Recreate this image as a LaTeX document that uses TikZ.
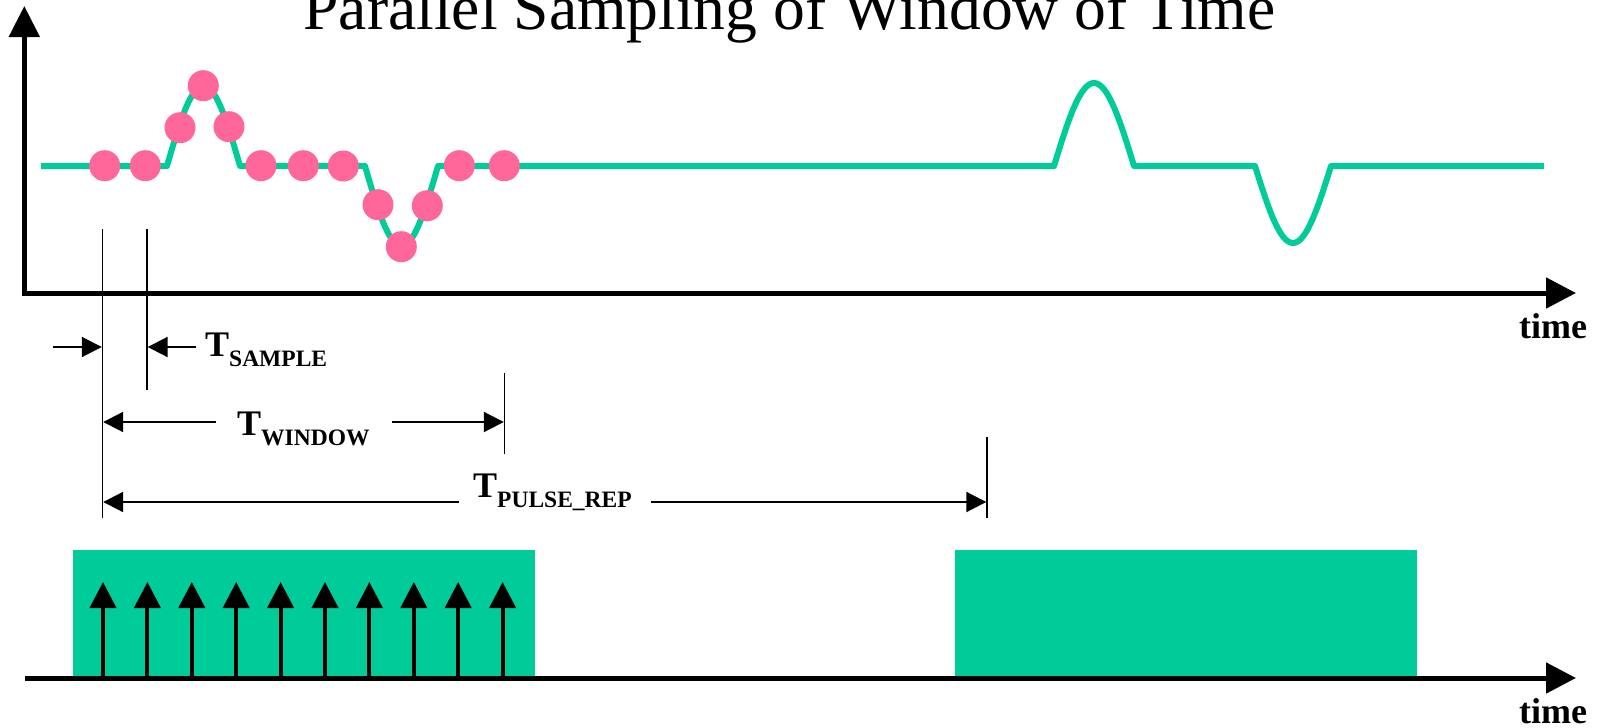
\documentclass[tikz,border=0pt]{standalone}
\usepackage{fontspec}
\setmainfont{Liberation Serif}
\usetikzlibrary{arrows.meta}
\definecolor{sig}{HTML}{00CC99}
\definecolor{dotc}{HTML}{FF6699}
\newcommand{\dimlabel}[1]{{\bfseries\fontsize{36}{40}\selectfont T\raisebox{-10pt}{\fontsize{23.5}{26}\selectfont #1}}}
\begin{document}
\begin{tikzpicture}[x=1pt,y=-1pt,
  axisline/.style={line width=5pt},
  bigtip/.style={-{Triangle[length=30pt,width=30pt]}},
  signal/.style={sig,line width=6pt,line join=round},
  sampledot/.style={circle,fill=dotc,inner sep=0pt,minimum size=31pt},
  guide/.style={black,line width=1.4pt},
  dimarrow/.style={black,line width=2pt,-{Triangle[length=20pt,width=20pt]}},
  impulse/.style={black,line width=4pt,-{Triangle[length=26pt,width=26pt]}},
  pulsebox/.style={fill=sig},
  timelbl/.style={anchor=base,inner sep=0pt,font=\bfseries\fontsize{36}{40}\selectfont},
  dimtext/.style={anchor=base west,inner sep=0pt}
]
\useasboundingbox (0,0) rectangle (1604,728);

% title
\node[anchor=base,inner sep=0pt] (title) at (789.5,29.3) {\fontsize{63.6}{70}\selectfont Parallel Sampling of Window of Time};

% top axes
\coordinate (ytop) at (24.3,6);
\coordinate (xend) at (1576,293);
\draw[axisline,{Triangle[length=31pt,width=30pt]}-{Triangle[length=30pt,width=30pt]}] (ytop) |- (xend);
\node[timelbl] (time1) at (1553,338) {time};

% signal
\draw[signal] (41,166) -- (167,166)
  -- plot[variable=\t,domain=0:1,samples=41] ({167+73*\t},{166-80*sin(180*\t)})
  -- (365,166)
  -- plot[variable=\t,domain=0:1,samples=41] ({365+73*\t},{166+80*sin(180*\t)})
  -- (1054,166)
  -- plot[variable=\t,domain=0:1,samples=41] ({1054+80*\t},{166-83*sin(180*\t)})
  -- (1255,166)
  -- plot[variable=\t,domain=0:1,samples=41] ({1255+76*\t},{166+77*sin(180*\t)})
  -- (1544,166);

% sample dots
\foreach \n/\px/\py in {1/104.7/165.7, 2/145.3/165.7, 3/180/127.7, 4/203.3/85.7,
  5/229/126.7, 6/261/165.7, 7/303.3/165.7, 8/343.3/166, 9/378/204.7,
  10/401.3/246.7, 11/427.3/205.7, 12/459.3/165.7, 13/504.3/165.7}
  \node[sampledot] (d\n) at (\px,\py) {};

% guide lines
\coordinate (ga1) at (102.5,229); \coordinate (ga2) at (102.5,518);
\coordinate (gb1) at (147,229);   \coordinate (gb2) at (147,390);
\coordinate (gc1) at (504.5,373); \coordinate (gc2) at (504.5,454);
\coordinate (gd1) at (987,437);   \coordinate (gd2) at (987,518);
\draw[guide] (ga1) -- (ga2);
\draw[guide] (gb1) -- (gb2);
\draw[guide] (gc1) -- (gc2);
\draw[guide] (gd1) -- (gd2);

% T_SAMPLE
\coordinate (s0) at (53,347);  \coordinate (s1) at (101.8,347);
\coordinate (s2) at (196,347); \coordinate (s3) at (147.7,347);
\draw[dimarrow] (s0) -- (s1);
\draw[dimarrow] (s2) -- (s3);
\node[dimtext] (tsample) at (205,356) {\dimlabel{SAMPLE}};

% T_WINDOW
\coordinate (w0) at (216,422); \coordinate (w1) at (103.2,422);
\coordinate (w2) at (392,422); \coordinate (w3) at (503.8,422);
\draw[dimarrow] (w0) -- (w1);
\draw[dimarrow] (w2) -- (w3);
\node[dimtext] (twindow) at (237,435) {\dimlabel{WINDOW}};

% T_PULSE_REP
\coordinate (p0) at (459,502); \coordinate (p1) at (103.2,502);
\coordinate (p2) at (651,502); \coordinate (p3) at (986.3,502);
\draw[dimarrow] (p0) -- (p1);
\draw[dimarrow] (p2) -- (p3);
\node[dimtext] (tpulse) at (473,497) {\dimlabel{PULSE\_REP}};

% bottom: pulse boxes
\fill[pulsebox] (73,550) rectangle (535,677);
\fill[pulsebox] (955,550) rectangle (1417,677);

% impulses
\foreach \k in {0,...,9} {
  \coordinate (ib\k) at ({103+44.4*\k},676);
  \coordinate (it\k) at ({103+44.4*\k},582);
  \draw[impulse] (ib\k) -- (it\k);
}

% bottom axis
\coordinate (bx0) at (24.5,678);
\coordinate (bx1) at (1576,678);
\draw[axisline,bigtip] (bx0) -- (bx1);
\node[timelbl] (time2) at (1553,723) {time};
\end{tikzpicture}
\end{document}
